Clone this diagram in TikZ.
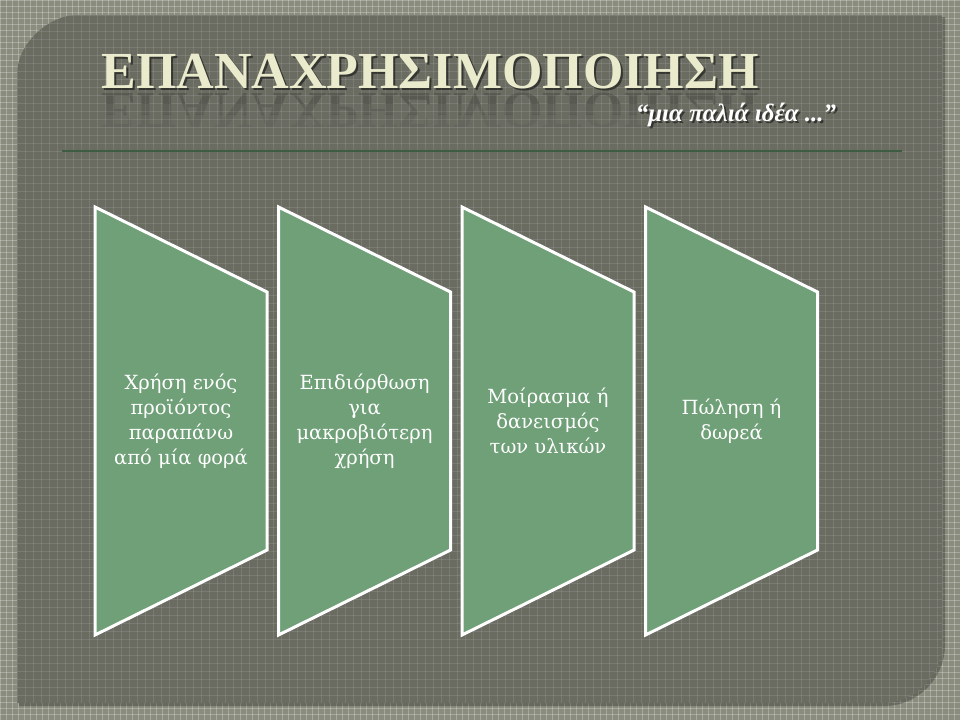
\documentclass[tikz,border=0pt]{standalone}
\usepackage{fontspec}
\setmainfont{DejaVu Serif}
\newfontfamily\titlefont{Liberation Serif}
\definecolor{outerbg}{RGB}{138,140,126}
\definecolor{panelbg}{RGB}{106,107,97}
\definecolor{stepgreen}{RGB}{112,160,120}
\definecolor{titlecream}{RGB}{234,234,204}
\definecolor{rulegreen}{RGB}{62,92,66}

\begin{document}
\begin{tikzpicture}[x=1pt,y=-1pt,
  step shape/.style={fill=stepgreen, draw=white, line width=3pt},
  step text/.style={text=white, align=center, font=\fontsize{19.5}{25}\selectfont},
  title text/.style={font=\titlefont\bfseries\fontsize{52}{52}\selectfont, inner sep=0pt},
  sub text/.style={font=\titlefont\bfseries\itshape\fontsize{25}{25}\selectfont},
  grid line/.style={draw=white, line width=0.5pt}]
\useasboundingbox (0,0) rectangle (960,720);

% background and grid
\fill[outerbg] (0,0) rectangle (960,720);
\foreach \g in {0,6,...,960} \draw[grid line, opacity=0.25] (\g,0) -- (\g,720);
\foreach \g in {0,6,...,720} \draw[grid line, opacity=0.25] (0,\g) -- (960,\g);

% panel
\fill[black, opacity=0.25] (19,77) .. controls (19,44) and (52,17) .. (79,17) -- (945,17) -- (945,645) .. controls (945,678) and (918,706) .. (884,706) -- (19,706) -- cycle;
\fill[panelbg] (17,75) .. controls (17,42) and (50,15) .. (77,15) -- (942,15) -- (942,643) .. controls (942,676) and (915,703) .. (882,703) -- (17,703) -- cycle;
\begin{scope}
\clip (17,75) .. controls (17,42) and (50,15) .. (77,15) -- (942,15) -- (942,643) .. controls (942,676) and (915,703) .. (882,703) -- (17,703) -- cycle;
\foreach \g in {17,25,...,960} \draw[grid line, opacity=0.1] (\g,0) -- (\g,720);
\foreach \g in {15,23,...,720} \draw[grid line, opacity=0.1] (0,\g) -- (960,\g);
\end{scope}

% title, its shadow and fading reflection
\foreach \top/\bot/\op [count=\k] in {92/103/0.16, 103/114/0.1, 114/126/0.05} {
  \begin{scope}
  \clip (0,\top) rectangle (960,\bot);
  \node[title text, text=black, opacity=\op, yscale=-1, transform shape] (reflection\k) at (430,110) {ΕΠΑΝΑΧΡΗΣΙΜΟΠΟΙΗΣΗ};
  \end{scope}
}
\node[title text, text=black, opacity=0.5] (shadow) at (432,74) {ΕΠΑΝΑΧΡΗΣΙΜΟΠΟΙΗΣΗ};
\node[title text, text=titlecream] (title) at (430,72) {ΕΠΑΝΑΧΡΗΣΙΜΟΠΟΙΗΣΗ};
\node[sub text, text=black, opacity=0.5] (subshadow) at (738,117) {“μια παλιά ιδέα ...”};
\node[sub text, text=white] (subtitle) at (736,115) {“μια παλιά ιδέα ...”};
\draw[rulegreen, line width=1.2pt] (62,151) -- (902,151);

% steps
\foreach \txt [count=\i] in {{Χρήση ενός\\προϊόντος\\παραπάνω\\από μία φορά},
                              {Επιδιόρθωση\\για\\μακροβιότερη\\χρήση},
                              {Μοίρασμα ή\\δανεισμός\\των υλικών},
                              {Πώληση ή\\δωρεά}} {
  \pgfmathsetmacro\xl{95+183.5*(\i-1)}
  \draw[step shape] (\xl,207) -- ++(172,85) -- ++(0,258) -- ++(-172,85) -- cycle;
  \node[step text] (step\i) at (\xl+86,421) {\txt};
}
\end{tikzpicture}
\end{document}
